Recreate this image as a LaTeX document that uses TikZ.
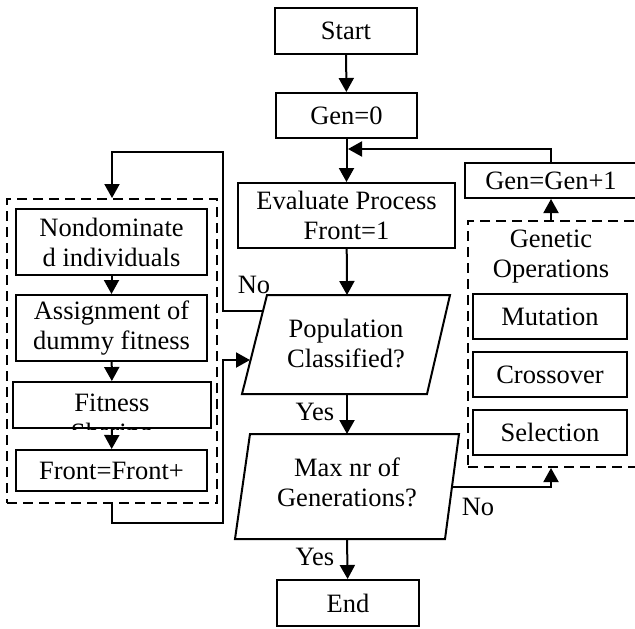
\documentclass[tikz,border=0pt]{standalone}
\usepackage{fontspec}
\setmainfont{Liberation Serif}
\usetikzlibrary{arrows.meta}
\tikzset{every node/.style={font=\fontsize{13.25}{15}\selectfont, align=center},
 box/.style={draw, line width=1pt, inner sep=0pt},
 dbox/.style={draw, line width=1pt, dash pattern=on 5pt off 3pt, inner sep=0pt},
 flow/.style={line width=1pt, -{Triangle[length=7pt,width=7.5pt]}},
 link/.style={line width=1pt},
 }

\begin{document}
\begin{tikzpicture}[x=0.5pt,y=-0.5pt]
        \clip (0,0) rectangle (635,628);
        \node[box, minimum width=71pt, minimum height=23pt] (start) at (346,31) {Start};
        \node[box, minimum width=70.5pt, minimum height=22.5pt] (gen) at (346.5,115.5) {Gen=0};
        \node[box, minimum width=108.5pt, minimum height=32.5pt] (eval) at (346.5,215.5) {Evaluate Process\\Front=1};
        \draw[link] (267,295) -- (450,295) -- (427,394) -- (242,394) -- cycle;
        \node (pop) at (346,343) {Population\\Classified?};
        \draw[link] (250,434) -- (459,434) -- (445,539) -- (235,539) -- cycle;
        \node (maxg) at (347,482) {Max nr of\\Generations?};
        \node[box, minimum width=71pt, minimum height=23pt] (end) at (348,603) {End};
        \coordinate (popT) at (347,295);
        \coordinate (popB) at (347,394);
        \coordinate (popNo) at (263,311);
        \coordinate (popIn) at (250,360);
        \coordinate (maxT) at (347,434);
        \coordinate (maxB) at (347,539);
        \coordinate (maxNo) at (452,487);
        \coordinate (merge) at (348,149);

        \node[dbox, minimum width=105pt, minimum height=152pt] (lbox) at (112,351) {};
        \node[box, minimum width=95.5pt, minimum height=33pt] (nd) at (111.5,242) {Nondominate\\d individuals};
        \node[box, minimum width=95.5pt, minimum height=33pt] (asg) at (111.5,328) {Assignment of\\dummy fitness};
        \node[box, minimum width=99pt, minimum height=23pt] (fit) at (112,405) {};
        \begin{scope}
            \clip (fit.south west) rectangle (fit.north east);
            \node (fittxt) at (112,421) {Fitness\\Sharing};
        \end{scope}
        \node[box, minimum width=95.5pt, minimum height=20.5pt] (front) at (111.5,470.5) {Front=Front+};

        \node[box, minimum width=96pt, minimum height=17.5pt] (gg) at (561,180.5) {};
        \node (ggtxt) at (551,180.5) {Gen=Gen+1};
        \node[dbox, minimum width=96pt, minimum height=123pt] (gbox) at (564,344) {};
        \node (gops) at (551,257) {Genetic\\Operations};
        \node[box, minimum width=77pt, minimum height=22.5pt] (mut) at (550,316.5) {Mutation};
        \node[box, minimum width=77pt, minimum height=22.5pt] (cro) at (550,374.5) {Crossover};
        \node[box, minimum width=77pt, minimum height=22.5pt] (sel) at (550,432.5) {Selection};

        \draw[flow] (start) -- (gen);
        \draw[flow] (gen) -- (eval);
        \draw[flow] (eval) -- (popT);
        \draw[flow] (popB) -- (maxT);
        \draw[flow] (maxB) -- (end);
        \draw[flow] (nd) -- (asg);
        \draw[flow] (asg) -- (fit);
        \draw[flow] (fit) -- (front);

        \coordinate (ltop) at (223,152);
        \coordinate (lbot) at (223,523);
        \draw[flow] (popNo) -| (ltop) -| (lbox.north);
        \draw[flow] (lbox.south) |- (lbot) |- (popIn);
        \draw[flow] (maxNo) -| (gbox.south -| gops);
        \draw[flow] (gbox.north -| gops) -- (gg.south -| gops);
        \draw[flow] (gg.north -| gops) |- (merge);

        \node (no1) at (254,285) {No};
        \node (yes1) at (315,412) {Yes};
        \node (yes2) at (315,557) {Yes};
        \node (no2) at (478,507) {No};
    \end{tikzpicture}
\end{document}
